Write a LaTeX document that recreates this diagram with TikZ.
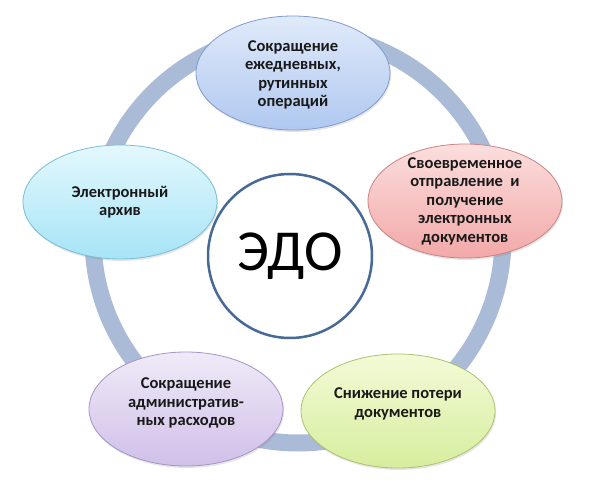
\documentclass[tikz,border=0pt]{standalone}
\usepackage{fontspec}
\setmainfont{Carlito}
\usetikzlibrary{shapes.geometric,shadows}
\definecolor{ringblue}{RGB}{170,187,216}
\definecolor{hubline}{RGB}{70,105,150}
\definecolor{bluetop}{RGB}{224,234,250}
\definecolor{bluebot}{RGB}{176,200,240}
\definecolor{blueline}{RGB}{128,155,205}
\definecolor{pinktop}{RGB}{252,222,222}
\definecolor{pinkbot}{RGB}{242,168,168}
\definecolor{pinkline}{RGB}{205,130,130}
\definecolor{cyantop}{RGB}{228,248,253}
\definecolor{cyanbot}{RGB}{166,228,246}
\definecolor{cyanline}{RGB}{120,190,215}
\definecolor{lilactop}{RGB}{240,234,248}
\definecolor{lilacbot}{RGB}{208,192,232}
\definecolor{lilacline}{RGB}{165,148,200}
\definecolor{greentop}{RGB}{243,250,215}
\definecolor{greenbot}{RGB}{214,238,158}
\definecolor{greenline}{RGB}{170,195,110}
\begin{document}
\begin{tikzpicture}
[x=1pt,y=-1pt,
ring/.style={draw=ringblue,line width=17pt},
hub/.style={circle,draw=hubline,line width=2.5pt,fill=white,minimum size=164pt,inner sep=0pt,font=\fontsize{58}{60}\selectfont},
bubble/.style={ellipse,minimum width=194pt,minimum height=114pt,inner sep=0pt,line width=0.8pt,drop shadow={opacity=0.2,shadow xshift=1pt,shadow yshift=-2pt}},
txt/.style={align=center,font=\bfseries\fontsize{16.5}{18.5}\selectfont,text=black!90}]
\fill[white] (0,0) rectangle (600,492);
\useasboundingbox (0,0) rectangle (600,492);
\draw[ring] (298,238) circle [radius=205];
\node (edo) at (290,256) [hub] {ЭДО};
\node (daily) at (293,73) [bubble,draw=blueline,top color=bluetop,bottom color=bluebot,
  label={[txt,yshift=-2pt]center:{Сокращение\\ежедневных,\\рутинных\\операций}}] {};
\node (timely) at (465,201) [bubble,draw=pinkline,top color=pinktop,bottom color=pinkbot,
  label={[txt]center:{Своевременное\\отправление~ и\\получение\\электронных\\документов}}] {};
\node (archive) at (120,202) [bubble,draw=cyanline,top color=cyantop,bottom color=cyanbot,
  label={[txt]center:{Электронный\\архив}}] {};
\node (costs) at (186,409) [bubble,draw=lilacline,top color=lilactop,bottom color=lilacbot,
  label={[txt,yshift=6pt]center:{Сокращение\\административ-\\ных расходов}}] {};
\node (loss) at (398,411) [bubble,draw=greenline,top color=greentop,bottom color=greenbot,
  label={[txt,yshift=7pt]center:{Снижение потери\\документов}}] {};
\end{tikzpicture}
\end{document}
